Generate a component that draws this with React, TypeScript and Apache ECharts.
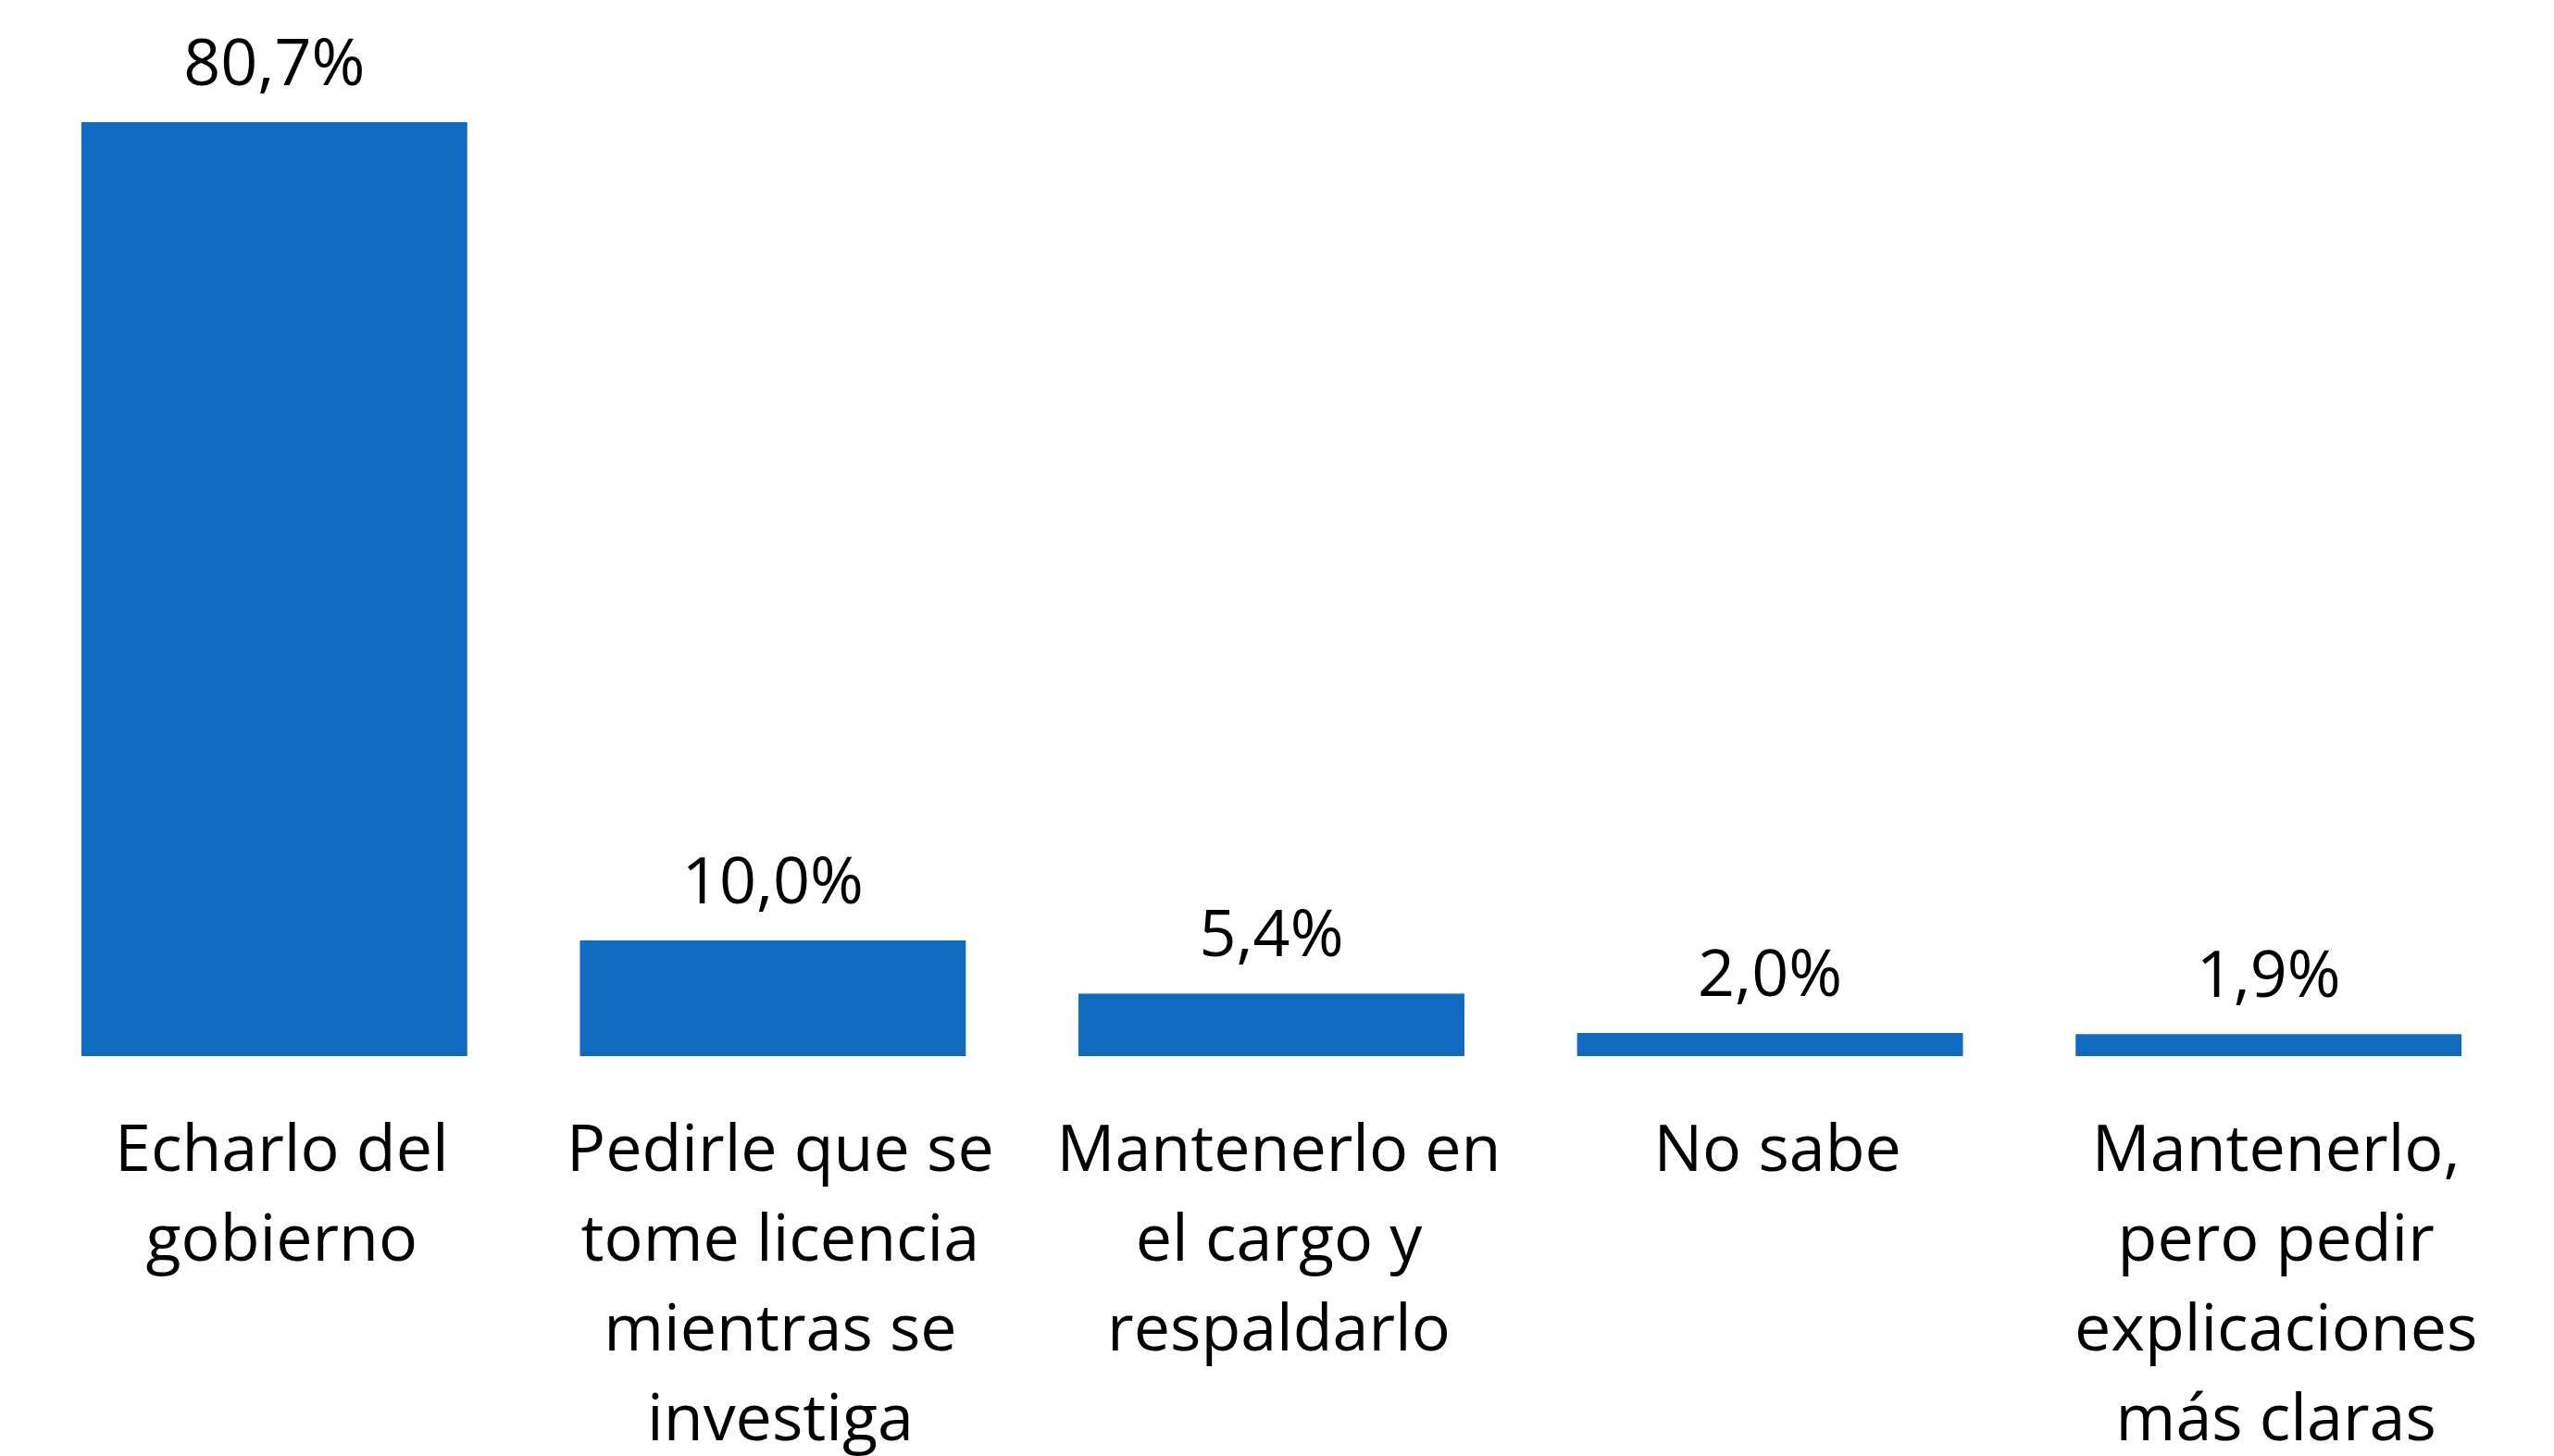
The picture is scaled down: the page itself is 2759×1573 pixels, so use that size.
import React, { useEffect, useRef } from "react";
import * as echarts from "echarts";

const categories = [
  "Echarlo del\ngobierno",
  "Pedirle que se\ntome licencia\nmientras se\ninvestiga",
  "Mantenerlo en\nel cargo y\nrespaldarlo",
  "No sabe",
  "Mantenerlo,\npero pedir\nexplicaciones\nmás claras",
];
const values = [80.7, 10.0, 5.4, 2.0, 1.9];

export default function App() {
  const ref = useRef<HTMLDivElement>(null);
  useEffect(() => {
    if (!ref.current) return;
    const chart = echarts.init(ref.current, undefined, { renderer: "svg" });
    const font = "'Open Sans', 'Noto Sans', sans-serif";
    chart.setOption({
      animation: false,
      backgroundColor: "#ffffff",
      grid: {
        left: 27,
        right: 39,
        top: 132,
        bottom: 432,
        containLabel: false,
        outerBoundsMode: "none",
      },
      xAxis: {
        type: "category",
        data: categories,
        axisLine: { show: false },
        axisTick: { show: false },
        axisLabel: {
          interval: 0,
          margin: 48,
          color: "#000000",
          fontFamily: font,
          fontSize: 70,
          lineHeight: 97,
          align: "center",
          padding: [0, 0, 0, 16],
        },
      },
      yAxis: {
        type: "value",
        min: 0,
        max: 80.7,
        show: false,
        splitLine: { show: false },
      },
      series: [
        {
          type: "bar",
          data: values,
          barCategoryGap: "22.6%",
          itemStyle: { color: "#106bc0" },
          label: {
            show: true,
            position: "top",
            distance: 32,
            color: "#000000",
            fontFamily: font,
            fontSize: 70,
            lineHeight: 70,
            formatter: (p: any) => p.value.toFixed(1).replace(".", ",") + "%",
          },
        },
      ],
    });
    return () => chart.dispose();
  }, []);
  return (
    <div
      ref={ref}
      style={{ position: "fixed", left: 0, top: 0, width: 2759, height: 1573, background: "#fff" }}
    />
  );
}
